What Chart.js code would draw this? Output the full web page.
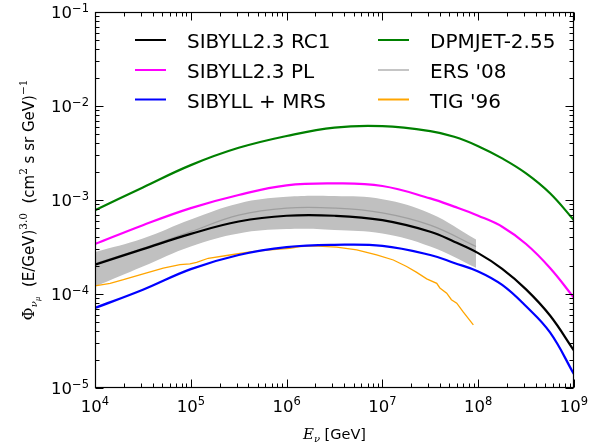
<!DOCTYPE html>
<html><head><meta charset="utf-8">
<script src="https://cdn.jsdelivr.net/npm/chart.js@4.4.1/dist/chart.umd.min.js"></script>
<style>html,body{margin:0;padding:0;background:#fff}</style>
</head><body>
<canvas id="c" width="604" height="448" style="display:block;width:604px;height:448px"></canvas>
<script>
// ---- data (energy in GeV, flux E^3 weighted) ----
const energies = [1e4, 3.16e4, 1e5, 3.16e5, 1e6, 3.16e6, 1e7, 3.16e7, 5.62e7, 1e8, 1.78e8, 3.16e8, 5.62e8, 1e9];
const sibyllRC1 = [2.05e-4, 3.0e-4, 4.36e-4, 5.9e-4, 6.8e-4, 6.8e-4, 6.1e-4, 4.6e-4, 3.6e-4, 2.72e-4, 1.85e-4, 1.12e-4, 5.9e-5, 2.5e-5];
const sibyllPL  = [3.4e-4, 5.4e-4, 8.2e-4, 1.13e-3, 1.43e-3, 1.50e-3, 1.41e-3, 1.04e-3, 8.5e-4, 6.8e-4, 5.2e-4, 3.4e-4, 1.89e-4, 9.1e-5];
const sibyllMRS = [7.1e-5, 1.11e-4, 1.84e-4, 2.6e-4, 3.15e-4, 3.33e-4, 3.25e-4, 2.6e-4, 2.14e-4, 1.74e-4, 1.25e-4, 7.4e-5, 3.9e-5, 1.4e-5];
const dpmjet    = [7.8e-4, 1.36e-3, 2.35e-3, 3.59e-3, 4.8e-3, 5.9e-3, 6.1e-3, 5.4e-3, 4.7e-3, 3.74e-3, 2.77e-3, 1.92e-3, 1.18e-3, 6.1e-4];

const ersEnergies = [1e4, 3.16e4, 1e5, 3.16e5, 1e6, 3.16e6, 1e7, 3.16e7, 9.5e7];
const ersCentral  = [2.1e-4, 3.05e-4, 4.6e-4, 6.9e-4, 8.2e-4, 8.2e-4, 7.3e-4, 5.4e-4, 3.2e-4];
const ersUpper    = [2.8e-4, 3.9e-4, 6.2e-4, 9.2e-4, 1.08e-3, 1.1e-3, 1.02e-3, 7.2e-4, 3.8e-4];
const ersLower    = [1.2e-4, 1.96e-4, 3.2e-4, 4.4e-4, 4.9e-4, 4.8e-4, 4.4e-4, 3.2e-4, 1.9e-4];

const tigEnergies = [1e4, 1.44e4, 1.98e4, 3.19e4, 5.16e4, 7.71e4, 9.8e4, 1.15e5, 1.52e5, 2.56e5, 4.15e5, 6.71e5, 1.08e6, 1.38e6, 1.9e6, 3.33e6, 5.4e6, 8.7e6, 1.3e7, 1.79e7, 2.28e7, 2.9e7, 3.69e7, 3.98e7, 4.69e7, 5.25e7, 5.97e7, 7.0e7, 8.9e7];
const tig96       = [1.22e-4, 1.3e-4, 1.42e-4, 1.64e-4, 1.89e-4, 2.05e-4, 2.09e-4, 2.17e-4, 2.4e-4, 2.6e-4, 2.8e-4, 2.95e-4, 3.06e-4, 3.2e-4, 3.25e-4, 3.15e-4, 2.95e-4, 2.6e-4, 2.3e-4, 1.96e-4, 1.7e-4, 1.45e-4, 1.3e-4, 1.16e-4, 1.02e-4, 8.7e-5, 8.0e-5, 6.4e-5, 4.7e-5];

const xTickValues = [1e4, 1e5, 1e6, 1e7, 1e8, 1e9];
const xTickExps   = ['4', '5', '6', '7', '8', '9'];
const yTickValues = [1e-5, 1e-4, 1e-3, 1e-2, 1e-1];
const yTickExps   = ['\u22125', '\u22124', '\u22123', '\u22122', '\u22121'];

const toPts = (xs, ys) => xs.map((x, i) => ({x: x, y: ys[i]}));

const line = (label, xs, ys, color, w, order, smooth) => ({
  label, data: toPts(xs, ys), borderColor: color, backgroundColor: color,
  borderWidth: w, pointRadius: 0, fill: false, order: order,
  cubicInterpolationMode: 'default', tension: smooth ? 0.4 : 0
});

const datasets = [
  line('SIBYLL2.3 RC1', energies, sibyllRC1, '#000000', 2.2, 0, true),
  line('SIBYLL2.3 PL', energies, sibyllPL, '#ff00ff', 2.2, 0, true),
  line('SIBYLL + MRS', energies, sibyllMRS, '#0000ff', 2.2, 0, true),
  line('DPMJET-2.55', energies, dpmjet, '#008000', 2.2, 0, true),
  line("ERS '08", ersEnergies, ersCentral, 'rgba(110,110,110,0.4)', 1.3, 2, true),
  line("TIG '96", tigEnergies, tig96, '#ffa500', 1.3, 1, false),
  Object.assign(line('ersHi', ersEnergies, ersUpper, 'rgba(0,0,0,0)', 0, 5, true), {fill: '+1', backgroundColor: '#c0c0c0'}),
  line('ersLo', ersEnergies, ersLower, 'rgba(0,0,0,0)', 0, 5, true)
];

// legend layout: [dataset index, x, y]
const legendSlots = [[0, 135, 40], [1, 135, 70], [2, 135, 99.5], [3, 378, 40], [4, 378, 70], [5, 378, 99.5]];

function powText(ctx, exp, xPos, baseY, align, baseSize, expSize, expRaise) {
  ctx.font = baseSize + 'px "DejaVu Sans"';
  const wb = ctx.measureText('10').width;
  ctx.font = expSize + 'px "DejaVu Sans"';
  const we = ctx.measureText(exp).width;
  const total = wb + we;
  const left = align === 'center' ? xPos - total / 2 : xPos - total;
  ctx.textAlign = 'left';
  ctx.textBaseline = 'alphabetic';
  ctx.font = baseSize + 'px "DejaVu Sans"';
  ctx.fillText('10', left, baseY);
  ctx.font = expSize + 'px "DejaVu Sans"';
  ctx.fillText(exp, left + wb, baseY - expRaise);
}

function drawPieces(ctx, pieces, cx, baseY) {
  let total = 0;
  pieces.forEach(p => { ctx.font = p.f; p.w = ctx.measureText(p.t).width; total += p.w; });
  let x = cx - total / 2;
  ctx.textAlign = 'left'; ctx.textBaseline = 'alphabetic';
  pieces.forEach(p => { ctx.font = p.f; ctx.fillText(p.t, x, baseY + (p.dy || 0)); x += p.w; });
}

const decor = {
  id: 'decor',
  afterDraw(chart) {
    const {ctx, chartArea: a, scales} = chart;
    const xs = scales.x, ys = scales.y;
    ctx.save();
    ctx.strokeStyle = '#000'; ctx.fillStyle = '#000'; ctx.lineWidth = 1;
    const L = Math.round(a.left) + 0.5, R = Math.round(a.right) - 0.5;
    const T = Math.round(a.top) + 0.5, B = Math.round(a.bottom) - 0.5;
    ctx.beginPath();
    for (let k = 4; k <= 9; k++) {
      for (let m = 1; m <= 9; m++) {
        const v = m * Math.pow(10, k);
        if (v > 1e9 * 1.0001) break;
        const p = Math.round(xs.getPixelForValue(v)) + 0.5;
        const len = m === 1 ? 8 : 4;
        ctx.moveTo(p, B); ctx.lineTo(p, B - len);
        ctx.moveTo(p, T); ctx.lineTo(p, T + len);
      }
    }
    for (let k = -5; k <= -1; k++) {
      for (let m = 1; m <= 9; m++) {
        const v = m * Math.pow(10, k);
        if (v > 0.1 * 1.0001) break;
        const p = Math.round(ys.getPixelForValue(v)) + 0.5;
        const len = m === 1 ? 8 : 4;
        ctx.moveTo(L, p); ctx.lineTo(L + len, p);
        ctx.moveTo(R, p); ctx.lineTo(R - len, p);
      }
    }
    ctx.stroke();
    ctx.lineWidth = 1.2;
    ctx.strokeRect(L, T, R - L, B - T);

    xTickValues.forEach((v, i) => {
      powText(ctx, xTickExps[i], xs.getPixelForValue(v), a.bottom + 24, 'center', 16.5, 11.5, 7);
    });
    yTickValues.forEach((v, i) => {
      powText(ctx, yTickExps[i], a.left - 6, ys.getPixelForValue(v) + 6, 'right', 16.5, 11.5, 6);
    });

    drawPieces(ctx, [
      {t: 'E', f: 'italic 15px "DejaVu Serif"'},
      {t: '\u03bd', f: 'italic 10px "DejaVu Serif"', dy: 3},
      {t: ' [GeV]', f: '14.5px "DejaVu Sans"'}
    ], (a.left + a.right) / 2, 439);

    ctx.save();
    ctx.translate(34, (a.top + a.bottom) / 2);
    ctx.rotate(-Math.PI / 2);
    drawPieces(ctx, [
      {t: '\u03a6', f: '16px "DejaVu Serif"'},
      {t: '\u03bd', f: 'italic 10px "DejaVu Serif"', dy: 3},
      {t: '\u03bc', f: 'italic 7px "DejaVu Serif"', dy: 6},
      {t: '  (E/GeV)', f: '15px "DejaVu Sans"'},
      {t: '3.0', f: '10.5px "DejaVu Serif"', dy: -7},
      {t: '  (cm', f: '15px "DejaVu Sans"'},
      {t: '2', f: '10.5px "DejaVu Serif"', dy: -7},
      {t: ' s sr GeV)', f: '15px "DejaVu Sans"'},
      {t: '\u22121', f: '10.5px "DejaVu Serif"', dy: -7}
    ], 0, 0);
    ctx.restore();

    legendSlots.forEach(([idx, x, y]) => {
      const ds = chart.data.datasets[idx];
      ctx.beginPath();
      ctx.strokeStyle = ds.borderColor;
      ctx.lineWidth = 2;
      ctx.moveTo(x, y); ctx.lineTo(x + 31, y);
      ctx.stroke();
      ctx.fillStyle = '#000';
      ctx.font = '20px "DejaVu Sans"';
      ctx.textAlign = 'left'; ctx.textBaseline = 'alphabetic';
      ctx.fillText(ds.label, x + 52, y + 8);
    });
    ctx.restore();
  }
};

new Chart(document.getElementById('c'), {
  type: 'line',
  data: {datasets},
  options: {
    responsive: false, animation: false, devicePixelRatio: 1,
    layout: {padding: {top: 12, right: 30, left: 0, bottom: 0}},
    plugins: {legend: {display: false}, tooltip: {enabled: false}},
    scales: {
      x: {type: 'logarithmic', min: 1e4, max: 1e9,
          ticks: {display: false}, grid: {display: false}, border: {display: false},
          afterFit(s) { s.height = 60; }},
      y: {type: 'logarithmic', min: 1e-5, max: 1e-1,
          ticks: {display: false}, grid: {display: false}, border: {display: false},
          afterFit(s) { s.width = 95; }}
    }
  },
  plugins: [decor]
});
</script>
</body></html>
